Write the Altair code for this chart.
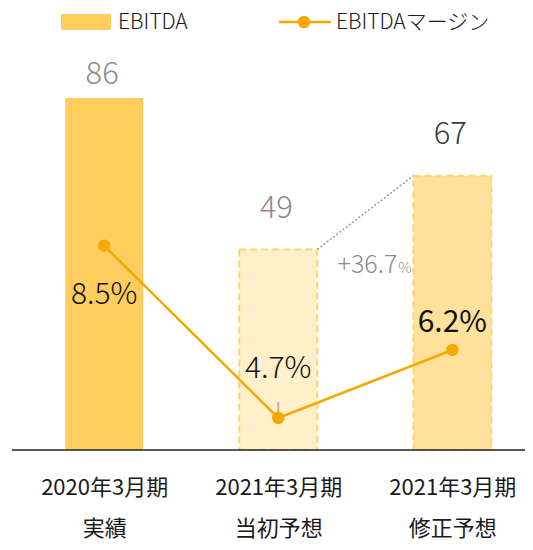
import json
import altair as alt
import pandas as pd

# ---- data ----
categories = ["2020年3月期|実績", "2021年3月期|当初予想", "2021年3月期|修正予想"]
ebitda = [86, 49, 67]
margin = [8.5, 4.7, 6.2]
ebitda_labels = ["86", "49", "67"]
margin_labels = ["8.5%", "4.7%", "6.2%"]
growth_label = "+36.7"
growth_unit = "%"
legend_labels = ["EBITDA", "EBITDAマージン"]

# ---- styles ----
bar_fills = ["#FFCD5E", "#FFF0CA", "#FFE19C"]
bar_strokes = ["#FFCD5E", "#FFD56F", "#FFD56F"]
ORANGE = "#F5A800"
FONT = "Noto Sans CJK JP"
W, H = 517, 442
BAR_W = 78

idx = list(range(len(categories)))
df = pd.DataFrame({"idx": idx, "cat": categories, "ebitda": ebitda, "margin": margin,
                   "elab": ebitda_labels, "mlab": margin_labels})
one = pd.DataFrame({"k": [0]})

xscale = alt.Scale(domain=[-0.5239, 2.3887], nice=False, zero=False)
ybar = alt.Scale(domain=[0, 108], nice=False, zero=False)
ymar = alt.Scale(domain=[3.994, 13.743], nice=False, zero=False)
cats_js = json.dumps(categories, ensure_ascii=False)


def X(field="idx"):
    return alt.X(f"{field}:Q", scale=xscale, title=None,
                 axis=alt.Axis(values=idx, domain=False, ticks=False, grid=False, labelAngle=0,
                               labelFlush=False, labelOverlap=False, labelBound=False,
                               labelExpr=f"split({cats_js}[datum.value], '|')",
                               labelFont=FONT, labelFontSize=22, labelColor="#1a1a1a",
                               labelLineHeight=41, labelPadding=27))


fill_enc = alt.Fill("cat:N", scale=alt.Scale(domain=categories, range=bar_fills), legend=None)

bar_solid = alt.Chart(df.iloc[[0]]).mark_bar(size=BAR_W).encode(
    x=X(), y=alt.Y("ebitda:Q", scale=ybar, axis=None), fill=fill_enc)
bar_dashed = alt.Chart(df.iloc[[1, 2]]).mark_bar(size=BAR_W, strokeWidth=2, strokeDash=[7, 4]).encode(
    x=X(), y=alt.Y("ebitda:Q", scale=ybar, axis=None), fill=fill_enc,
    stroke=alt.Stroke("cat:N", scale=alt.Scale(domain=categories, range=bar_strokes), legend=None),
)

baseline = alt.Chart(one).mark_rule(color="#222222", strokeWidth=1.6).encode(
    x=alt.value(4), x2=alt.value(W), y=alt.value(H))

conn = pd.DataFrame({"i1": [idx[1]], "i2": [idx[2]], "v1": [ebitda[1]], "v2": [ebitda[2]]})
dotted = alt.Chart(conn).mark_rule(xOffset=BAR_W / 2, x2Offset=-BAR_W / 2, strokeDash=[2, 2],
                                   color="#9a9a9a", strokeWidth=1.5).encode(
    x=X("i1"), x2="i2:Q",
    y=alt.Y("v1:Q", scale=ybar, axis=None), y2="v2:Q",
)

layers = [bar_solid, bar_dashed, baseline, dotted]

e_dy = [-23, -40, -41]
e_col = ["#8c8c8c", "#8c8c8c", "#3a3a3a"]
for i in range(3):
    layers.append(alt.Chart(df.iloc[[i]]).mark_text(
        font=FONT, fontSize=31, fontWeight=300, color=e_col[i], baseline="middle", dy=e_dy[i], dx=-2
    ).encode(x=X(), y=alt.Y("ebitda:Q", scale=ybar, axis=None), text="elab:N"))

gdf = pd.DataFrame({"idx": [idx[1]], "ebitda": [ebitda[1]],
                    "g": [growth_label], "u": [growth_unit]})
layers.append(alt.Chart(gdf).mark_text(
    font=FONT, fontSize=25, fontWeight=300, color="#8c8c8c", align="right",
    baseline="alphabetic", dx=119, dy=24
).encode(x=X(), y=alt.Y("ebitda:Q", scale=ybar, axis=None), text="g:N"))
layers.append(alt.Chart(gdf).mark_text(
    font=FONT, fontSize=15, fontWeight=300, color="#8c8c8c", align="left",
    baseline="alphabetic", dx=120, dy=24
).encode(x=X(), y=alt.Y("ebitda:Q", scale=ybar, axis=None), text="u:N"))

line = alt.Chart(df).mark_line(color=ORANGE, strokeWidth=2.5).encode(
    x=X(), y=alt.Y("margin:Q", scale=ymar, axis=None))
tick = alt.Chart(df.iloc[[1]]).mark_tick(orient="vertical", size=16, thickness=2,
                                         yOffset=-8, color="#9a9a9a").encode(
    x=X(), y=alt.Y("margin:Q", scale=ymar, axis=None))
pts = alt.Chart(df).mark_point(filled=True, size=154, color=ORANGE, opacity=1).encode(
    x=X(), y=alt.Y("margin:Q", scale=ymar, axis=None))
layers += [line, tick, pts]

m_dy = [49, -49, -27]
m_w = [300, 300, 400]
for i in range(3):
    layers.append(alt.Chart(df.iloc[[i]]).mark_text(
        font=FONT, fontSize=30, fontWeight=m_w[i], color="#111111", baseline="middle", dy=m_dy[i]
    ).encode(x=X(), y=alt.Y("margin:Q", scale=ymar, axis=None), text="mlab:N"))

# ---- legend ----
LY = 14
layers.append(alt.Chart(one).mark_rect(color=bar_fills[0]).encode(
    x=alt.value(53), x2=alt.value(103), y=alt.value(LY - 8), y2=alt.value(LY + 8)))
layers.append(alt.Chart(one).mark_text(font=FONT, fontSize=21, fontWeight=300, color="#1a1a1a",
                                       align="left", baseline="middle").encode(
    x=alt.value(110), y=alt.value(LY + 1), text=alt.value(legend_labels[0])))
layers.append(alt.Chart(one).mark_rule(color=ORANGE, strokeWidth=2.5).encode(
    x=alt.value(271), x2=alt.value(323), y=alt.value(LY)))
layers.append(alt.Chart(one).mark_point(filled=True, size=154, color=ORANGE, opacity=1).encode(
    x=alt.value(296), y=alt.value(LY)))
layers.append(alt.Chart(one).mark_text(font=FONT, fontSize=21, fontWeight=300, color="#1a1a1a",
                                       align="left", baseline="middle").encode(
    x=alt.value(328), y=alt.value(LY + 1), text=alt.value(legend_labels[1])))

chart = alt.layer(*layers).resolve_scale(y="independent").properties(
    width=W, height=H,
    autosize=alt.AutoSizeParams(type="none"),
    padding={"left": 0, "top": 0, "right": 0, "bottom": 92},
).configure_view(stroke=None)

chart.save("out.html", embed_options={"renderer": "svg", "actions": False})
